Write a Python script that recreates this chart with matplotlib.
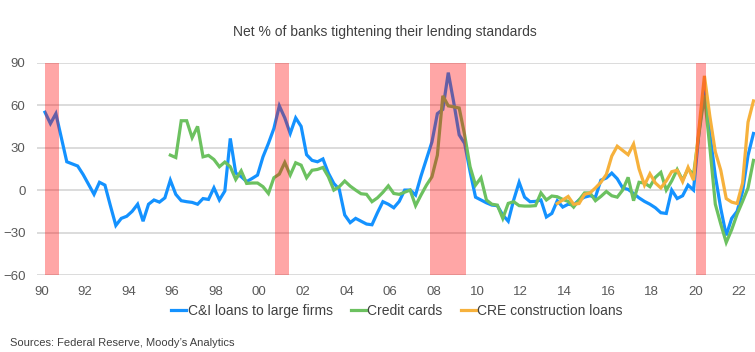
import numpy as np
import matplotlib
matplotlib.use("Agg")
from matplotlib import pyplot as plt

plt.rcParams['font.family'] = ['Liberation Sans', 'DejaVu Sans']

# quarterly survey readings, first value = 1990Q2
ci_start = 1990.25
ci_large = [55, 47, 54, 37, 20, 18.5, 17, 11, 4, -3,
            5.5, 3.5, -11, -25, -20, -18.5, -15, -10, -22, -10,
            -7, -8.5, -5.5, 7, -3, -7.5, -8.2, -8.7, -10, -6,
            -6.6, 1.6, -7, -0.7, 36.5, 12, 9.5, 6, 8.2, 10.6,
            23.5, 33, 43.5, 59.5, 51, 40, 51, 45, 25, 21,
            20, 22, 12, 4.7, 0.5, -17.6, -23, -20, -22, -24,
            -24.5, -16, -8.2, -10, -12.5, -8, 0, 0, -3.5, 10,
            22, 34, 54, 57, 83, 62, 39, 33, 13, -5,
            -7, -9, -10.6, -11, -17.6, -22, -7, 5.5, -5, -8.2,
            -8, -7, -19, -16.5, -7.5, -12, -10, -10.5, -7, -5,
            -4, -5, 7, 8.5, 12, 8, 1.5, 0.5, -2.4, -5.5,
            -8, -10, -12.5, -16, -16.5, 0, -6, -4, 3.5, 0,
            41, 72, 40, 10, -13, -32, -20, -15, -1, 24.5, 40]

cards_start = 1996.0
credit_cards = [24.7, 23, 49, 49, 37, 45, 23.5,
                24.5, 21.6, 16.5, 19.8, 16.5, 7.5, 13.6, 4.7, 5, 5,
                2.4, -2.4, 8.7, 11.3, 19.5, 10.6, 19.3, 17.6, 8.7, 14,
                14.6, 16, 9.4, 0, 2.4, 6.4, 2.8, 0, -2.6, -3,
                -8.2, -5.5, -1.6, 3, -2.4, -3, -1.5, 0, -11, -3.5,
                3.5, 9.4, 24.7, 66.6, 59.5, 58.8, 58, 39, 16.5, 3.5,
                8.7, -7, -10, -10.6, -20, -9.4, -8.2, -11, -11.3, -11.3,
                -11, -2, -7, -4.2, -4.7, -6.6, -8, -12, -7, -2,
                -2, -7.5, -4.5, -1, -4, -5, 0, 9, -7.5, 5.5,
                5, 2.4, 9, 12.5, 0, 6.5, 14.5, 7, 15, 11,
                40, 67, 30, -10, -24, -37, -28, -17, -8, 1.5, 21]

cre_start = 2013.75
cre_construction = [-9.5, -7, -4.5, -10, -9.5, -3, -2, 1.5, 5.5, 11,
                    24, 31, 28, 25, 32.5, 15, 3.5, 11.5, 5, 1.5,
                    6.5, 13, 14, 6, 16, 7, 43.5, 80.7, 52, 27,
                    14, -6, -8.5, -9.5, 5, 48, 63]

recessions = [(1990.25, 1990.89), (2000.80, 2001.44), (2007.91, 2009.55), (2020.10, 2020.56)]
year_ticks = list(range(1990, 2023, 2))

c_blue = '#1492FF'
c_green = '#6CC160'
c_orange = '#F6B13C'
c_text = '#595959'

fig = plt.figure(figsize=(7.55, 3.52), dpi=100)
ax = fig.add_axes([36.7 / 755, 77 / 352, (755 - 36.7) / 755, 212.3 / 352])

def quarters(start, vals):
    return start + np.arange(len(vals)) / 4

ax.plot(quarters(ci_start, ci_large), ci_large, color=c_blue, lw=2.3,
        label='C&I loans to large firms', solid_joinstyle='miter', zorder=3)
ax.plot(quarters(cards_start, credit_cards), credit_cards, color=c_green, lw=2.3,
        label='Credit cards', solid_joinstyle='miter', zorder=4)
ax.plot(quarters(cre_start, cre_construction), cre_construction, color=c_orange, lw=2.3,
        label='CRE construction loans', solid_joinstyle='miter', zorder=5)

for a, b in recessions:
    ax.axvspan(a, b, color='#FF0000', alpha=0.35, lw=0, zorder=6)

ax.set_ylim(-60, 90)
ax.set_yticks(range(-60, 91, 30))
ax.set_xlim(1989.87, 2022.82)
ax.set_xticks([y + 0.08 for y in year_ticks])
ax.set_xticklabels([f'{y % 100:02d}' for y in year_ticks])
ax.grid(axis='y', color='#D9D9D9', lw=1.3, zorder=0)
ax.set_axisbelow(True)
for s in ax.spines.values():
    s.set_visible(False)
ax.tick_params(axis='both', length=0, labelsize=9.5, colors=c_text)
ax.tick_params(axis='y', pad=8)
ax.tick_params(axis='x', pad=8)

fig.text(385 / 755, 1 - 32 / 352, 'Net % of banks tightening their lending standards',
         ha='center', va='center', fontsize=10, color='#404040')

fig.legend(loc='center', bbox_to_anchor=(397 / 755, 1 - 311 / 352), ncol=3, frameon=False,
           fontsize=10, handlelength=1.1, handletextpad=0.1, columnspacing=1.3,
           labelcolor='#404040')

fig.text(10 / 755, 1 - 343 / 352, "Sources: Federal Reserve, Moody\u2019s Analytics",
         ha='left', va='center', fontsize=8, color='#404040')

fig.savefig('out.png', dpi=100)
